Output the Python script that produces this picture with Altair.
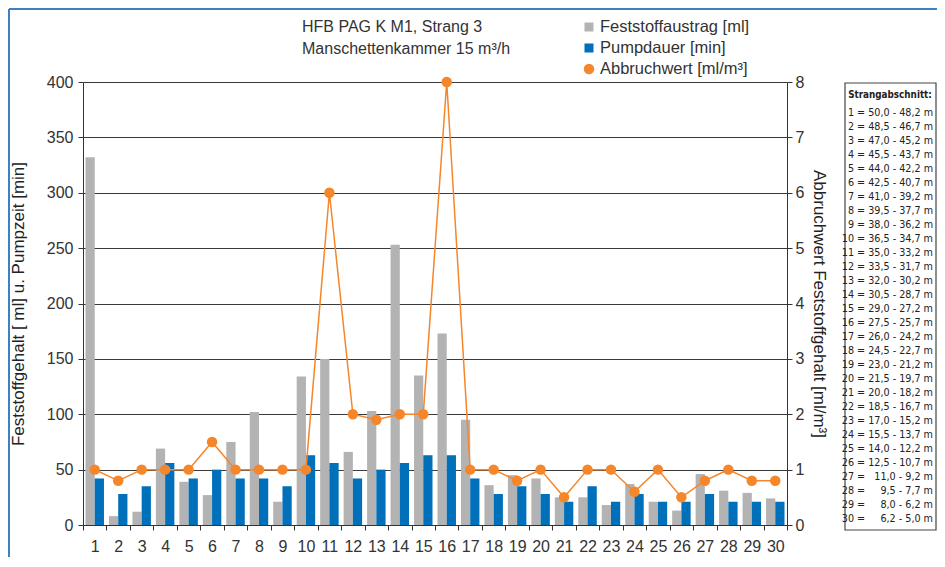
import altair as alt
import pandas as pd

# ---------------- data ----------------
cats = list(range(1, 31))
feststoff = [332, 8, 12, 69, 39, 27, 75, 102, 21, 134, 150, 66, 103, 253, 135,
             173, 95, 36, 45, 42, 25, 25, 18, 37, 21, 13, 46, 31, 29, 24]
pumpdauer = [42, 28, 35, 56, 42, 50, 42, 42, 35, 63, 56, 42, 50, 56, 63,
             63, 42, 28, 35, 28, 21, 35, 21, 28, 21, 21, 28, 21, 21, 21]
abbruch = [1, 0.8, 1, 1, 1, 1.5, 1, 1, 1, 1, 6, 2, 1.9, 2, 2,
           8, 1, 1, 0.8, 1, 0.5, 1, 1, 0.6, 1, 0.5, 0.8, 1, 0.8, 0.8]

series_names = ["Feststoffaustrag [ml]", "Pumpdauer [min]", "Abbruchwert [ml/m³]"]
series_colors = ["#b3b3b3", "#0070ba", "#f5862a"]
series_shapes = ["square", "square", "circle"]
series_sizes = [81, 81, 110]

title_lines = ["HFB PAG K M1, Strang 3", "Manschettenkammer 15 m³/h"]

FS = "\u2007"  # figure space (digit width)
strang_title = "Strangabschnitt:"
strang_lines = [
    "1 = 50,0 - 48,2 m", "2 = 48,5 - 46,7 m", "3 = 47,0 - 45,2 m",
    "4 = 45,5 - 43,7 m", "5 = 44,0 - 42,2 m", "6 = 42,5 - 40,7 m",
    "7 = 41,0 - 39,2 m", "8 = 39,5 - 37,7 m", "9 = 38,0 - 36,2 m",
    "10 = 36,5 - 34,7 m", "11 = 35,0 - 33,2 m", "12 = 33,5 - 31,7 m",
    "13 = 32,0 - 30,2 m", "14 = 30,5 - 28,7 m", "15 = 29,0 - 27,2 m",
    "16 = 27,5 - 25,7 m", "17 = 26,0 - 24,2 m", "18 = 24,5 - 22,7 m",
    "19 = 23,0 - 21,2 m", "20 = 21,5 - 19,7 m", "21 = 20,0 - 18,2 m",
    "22 = 18,5 - 16,7 m", "23 = 17,0 - 15,2 m", "24 = 15,5 - 13,7 m",
    "25 = 14,0 - 12,2 m", "26 = 12,5 - 10,7 m",
    "27 = " + FS + "11,0 - 9,2 m",
    "28 = " + FS + FS + "9,5 - 7,7 m",
    "29 = " + FS + FS + "8,0 - 6,2 m",
    "30 = " + FS + FS + "6,2 - 5,0 m",
]

# ---------------- layout constants ----------------
W, H = 704, 443
PAD_L, PAD_T, PAD_R, PAD_B = 75, 74, 150, 32
FONT = "Liberation Sans"
NARROW = "Liberation Sans Narrow, DejaVu Sans Condensed, Liberation Sans"
TXT = "#333333"
FRAME = "#3b82c4"

one = pd.DataFrame({"d": [0]})

# ---------------- bars ----------------
df_bar = pd.DataFrame({
    "cat": cats * 2,
    "series": [series_names[0]] * 30 + [series_names[1]] * 30,
    "val": feststoff + pumpdauer,
})

x_enc = alt.X(
    "cat:O",
    scale=alt.Scale(paddingInner=0, paddingOuter=0),
    axis=alt.Axis(title=None, labelAngle=0, tickBand="extent", tickSize=5,
                  labelFontSize=16, labelFont=FONT, labelColor=TXT, labelPadding=8,
                  domainColor="#333333", tickColor="#333333"),
)

bars = alt.Chart(df_bar).mark_bar().encode(
    x=x_enc,
    xOffset=alt.XOffset("series:N", sort=series_names[:2],
                        scale=alt.Scale(paddingInner=0, paddingOuter=0.27)),
    y=alt.Y("val:Q", scale=alt.Scale(domain=[0, 400], nice=False),
            axis=alt.Axis(values=list(range(0, 401, 50)), grid=True,
                          gridColor="#3a3a3a", gridWidth=1,
                          domainColor="#333333", tickColor="#333333", tickSize=5,
                          labelFontSize=16, labelFont=FONT, labelColor=TXT, labelPadding=5,
                          title="Feststoffgehalt [ ml] u. Pumpzeit [min]",
                          titleFont=FONT, titleFontSize=17, titleFontWeight="normal",
                          titleColor="#222222", titleX=-65, titleY=H / 2, titleAngle=-90,
                          titleAlign="center", titleBaseline="middle")),
    color=alt.Color("series:N", scale=alt.Scale(domain=series_names[:2],
                                                range=series_colors[:2]), legend=None),
)

# ---------------- line + points ----------------
df_ab = pd.DataFrame({"cat": cats, "ab": abbruch})
base = alt.Chart(df_ab).encode(
    x=alt.X("cat:O"),
    y=alt.Y("ab:Q", scale=alt.Scale(domain=[0, 8], nice=False),
            axis=alt.Axis(orient="right", values=list(range(0, 9)), grid=False,
                          domainColor="#333333", tickColor="#333333", tickSize=5,
                          labelFontSize=16, labelFont=FONT, labelColor=TXT, labelPadding=3,
                          title="Abbruchwert Feststoffgehalt [ml/m³]",
                          titleFont=FONT, titleFontSize=17, titleFontWeight="normal",
                          titleColor="#222222", titleX=31, titleY=H / 2, titleAngle=90,
                          titleAlign="center", titleBaseline="middle")),
)
line = base.mark_line(color=series_colors[2], strokeWidth=1.5)
pts = base.mark_point(filled=True, color=series_colors[2], size=110, opacity=1)
line_grp = alt.layer(line, pts)

# ---------------- frame ----------------
frame_top = alt.Chart(one).mark_rule(color=FRAME, strokeWidth=2).encode(
    x=alt.value(-PAD_L + 1), x2=alt.value(W + PAD_R), y=alt.value(-PAD_T + 1))
frame_left = alt.Chart(one).mark_rule(color=FRAME, strokeWidth=2).encode(
    x=alt.value(-PAD_L + 1), y=alt.value(-PAD_T + 1), y2=alt.value(H + PAD_B))

# ---------------- Strangabschnitt box ----------------
box = alt.Chart(one).mark_rect(fill="white", stroke="#444444", strokeWidth=1.2).encode(
    x=alt.value(762), x2=alt.value(W + PAD_R - 1), y=alt.value(1), y2=alt.value(448))

box_title = alt.Chart(pd.DataFrame({"t": [strang_title]})).mark_text(
    font=NARROW, fontSize=9.8, fontWeight="bold", color="#222222",
    align="center", baseline="middle").encode(
    text="t:N", x=alt.value(807), y=alt.value(13))

df_strang = pd.DataFrame({"idx": list(range(1, 31)), "label": strang_lines})
box_lines = alt.Chart(df_strang).mark_text(
    font=NARROW, fontSize=10.7, color="#222222", align="right", baseline="middle").encode(
    text="label:N",
    x=alt.value(850),
    y=alt.Y("idx:Q", scale=alt.Scale(domain=[1, 30], range=[31, 31 + 29 * 14], nice=False,
                                     zero=False), axis=None),
)

# ---------------- top titles ----------------
df_title = pd.DataFrame({"idx": [0, 1], "t": title_lines})
titles = alt.Chart(df_title).mark_text(
    font=FONT, fontSize=16, color=TXT, align="left", baseline="middle").encode(
    text="t:N", x=alt.value(219),
    y=alt.Y("idx:Q", scale=alt.Scale(domain=[0, 1], range=[-55, -33], nice=False,
                                     zero=False), axis=None),
)

# ---------------- legend ----------------
df_leg = pd.DataFrame({"idx": [0, 1, 2], "label": series_names, "color": series_colors,
                       "shape": series_shapes, "size": series_sizes})
leg_y = alt.Y("idx:Q", scale=alt.Scale(domain=[0, 2], range=[-55, -13], nice=False,
                                       zero=False), axis=None)
leg_sym = alt.Chart(df_leg).mark_point(filled=True, opacity=1).encode(
    x=alt.value(506), y=leg_y,
    color=alt.Color("color:N", scale=None),
    shape=alt.Shape("shape:N", scale=None),
    size=alt.Size("size:Q", scale=None),
)
leg_txt = alt.Chart(df_leg).mark_text(
    font=FONT, fontSize=16.5, color=TXT, align="left", baseline="middle").encode(
    text="label:N", x=alt.value(517), y=leg_y)
legend = alt.layer(leg_sym, leg_txt)

chart = alt.layer(
    frame_top, frame_left, box, box_title, box_lines, titles, legend,
    bars, line_grp,
).resolve_scale(
    y="independent", color="independent", shape="independent", size="independent"
).properties(
    width=W, height=H,
    padding={"left": PAD_L, "top": PAD_T, "right": PAD_R, "bottom": PAD_B},
    autosize=alt.AutoSizeParams(type="none"),
).configure_view(stroke=None).configure(background="white")

chart.save("out.html", embed_options={"renderer": "svg", "actions": False})
